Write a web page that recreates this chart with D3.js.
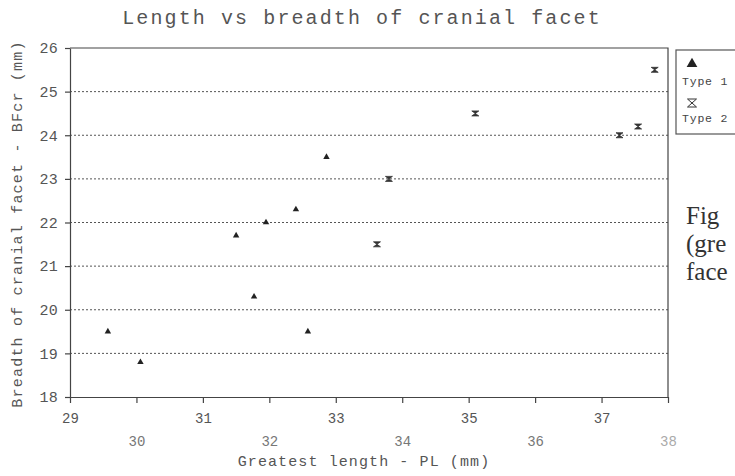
<!DOCTYPE html>
<html>
<head>
<meta charset="utf-8">
<script src="https://cdn.jsdelivr.net/npm/d3@7"></script>
<style>
  body { margin: 0; background: #fff; }
  svg { display: block; }
  .axis path, .axis line { stroke: #444; stroke-width: 1.2; }
  .axis text { font-family: "Liberation Mono", "DejaVu Sans Mono", monospace; fill: #555; }
</style>
</head>
<body>
<div class="scatter"><svg></svg></div>
<script>
'use strict';

// values
var type1Length = [29.57, 30.06, 31.5, 31.77, 31.95, 32.4, 32.58, 32.86],
    type1Breadth = [19.5, 18.8, 21.7, 20.3, 22.0, 22.3, 19.5, 23.5];

var type2Length = [33.62, 33.8, 35.1, 37.27, 37.55, 37.8],
    type2Breadth = [21.5, 23.0, 24.5, 24.0, 24.2, 25.5];

var xTicks = [29, 30, 31, 32, 33, 34, 35, 36, 37, 38],
    yTicks = [18, 19, 20, 21, 22, 23, 24, 25, 26],
    gridValues = [19, 20, 21, 22, 23, 24, 25];

var legendLabels = ['Type 1', 'Type 2'],
    captionLines = ['Fig', '(gre', 'face'];

var width = 735,
    height = 476,
    mono = '"Liberation Mono", "DejaVu Sans Mono", monospace';

var svg = d3.select('div.scatter').select('svg')
    .attr('width', width)
    .attr('height', height);

var x = d3.scaleLinear()
    .domain([29, 38])
    .range([70, 668]);

var y = d3.scaleLinear()
    .domain([18, 26])
    .range([397, 48]);

// hourglass marker: two triangles meeting in the middle
function hourglass(w, h) {
    return 'M' + (-w / 2) + ',' + (-h / 2) +
           'H' + (w / 2) +
           'L' + (-w / 2) + ',' + (h / 2) +
           'H' + (w / 2) + 'Z';
}

function zip(xs, ys) {
    return xs.map(function(d, i) { return { x: d, y: ys[i] }; });
}

// dotted grid
svg.append('g')
    .selectAll('line')
    .data(gridValues)
    .enter().append('line')
        .attr('x1', x.range()[0])
        .attr('x2', x.range()[1])
        .attr('y1', function(d) { return y(d); })
        .attr('y2', function(d) { return y(d); })
        .style('stroke', '#555')
        .style('stroke-width', 1)
        .style('stroke-dasharray', '2,2');

// frame top and right
svg.append('path')
    .attr('d', 'M' + x.range()[0] + ',' + y(26) + 'H' + x.range()[1] + 'V' + y(18))
    .style('fill', 'none')
    .style('stroke', '#444')
    .style('stroke-width', 1.2);

var yAxis = d3.axisLeft(y)
    .tickValues(yTicks)
    .tickSize(5)
    .tickPadding(7)
    .tickSizeOuter(0);

svg.append('g')
    .attr('class', 'axis axis--y')
    .attr('transform', 'translate(' + x.range()[0] + ',0)')
    .call(yAxis)
    .selectAll('text')
        .style('font-size', '15px')
        .style('letter-spacing', '0.3px');

var xAxis = d3.axisBottom(x)
    .tickValues(xTicks)
    .tickSize(6)
    .tickSizeOuter(0)
    .tickFormat(d3.format('d'));

svg.append('g')
    .attr('class', 'axis axis--x')
    .attr('transform', 'translate(0,' + y.range()[0] + ')')
    .call(xAxis)
    .selectAll('text')
        .attr('y', function(d) { return d % 2 ? 21 : 44; })
        .attr('dy', '0.35em')
        .style('font-size', '14px')
        .style('fill', function(d) { return d === 38 ? '#aaa' : (d % 2 ? '#555' : '#777'); });

// title and axis labels
svg.append('text')
    .attr('x', 362)
    .attr('y', 24)
    .attr('text-anchor', 'middle')
    .style('font-family', mono)
    .style('font-size', '20px')
    .style('letter-spacing', '2.1px')
    .style('fill', '#555')
    .text('Length vs breadth of cranial facet');

svg.append('text')
    .attr('x', 364)
    .attr('y', 466)
    .attr('text-anchor', 'middle')
    .style('font-family', mono)
    .style('font-size', '15px')
    .style('letter-spacing', '1.1px')
    .style('fill', '#555')
    .text('Greatest length - PL (mm)');

svg.append('text')
    .attr('transform', 'translate(22,224) rotate(-90)')
    .attr('text-anchor', 'middle')
    .style('font-family', mono)
    .style('font-size', '15px')
    .style('letter-spacing', '1.2px')
    .style('fill', '#555')
    .text('Breadth of cranial facet - BFcr (mm)');

// points
svg.append('g')
    .selectAll('path')
    .data(zip(type1Length, type1Breadth))
    .enter().append('path')
        .attr('transform', function(d) { return 'translate(' + x(d.x) + ',' + y(d.y) + ')'; })
        .attr('d', d3.symbol().type(d3.symbolTriangle).size(18))
        .style('fill', '#222');

svg.append('g')
    .selectAll('path')
    .data(zip(type2Length, type2Breadth))
    .enter().append('path')
        .attr('transform', function(d) { return 'translate(' + x(d.x) + ',' + y(d.y) + ')'; })
        .attr('d', hourglass(7, 5))
        .style('fill', '#333')
        .style('stroke', '#333')
        .style('stroke-width', 0.8);

// legend (runs off the right edge)
var legend = svg.append('g')
    .attr('transform', 'translate(676,50)');

legend.append('rect')
    .attr('width', 80)
    .attr('height', 84)
    .style('fill', 'none')
    .style('stroke', '#555')
    .style('stroke-width', 1.2);

legend.append('path')
    .attr('transform', 'translate(16,14)')
    .attr('d', d3.symbol().type(d3.symbolTriangle).size(50))
    .style('fill', '#222');

legend.append('path')
    .attr('transform', 'translate(16,53)')
    .attr('d', hourglass(9, 8))
    .style('fill', 'none')
    .style('stroke', '#333')
    .style('stroke-width', 1);

legend.selectAll('text')
    .data(legendLabels)
    .enter().append('text')
        .attr('x', 6)
        .attr('y', function(d, i) { return 35 + i * 37; })
        .style('font-family', mono)
        .style('font-size', '11.5px')
        .style('letter-spacing', '0.8px')
        .style('fill', '#444')
        .text(function(d) { return d; });

// caption fragment cut by the page edge
svg.append('g')
    .selectAll('text')
    .data(captionLines)
    .enter().append('text')
        .attr('x', 686)
        .attr('y', function(d, i) { return 224 + i * 28; })
        .style('font-family', '"Liberation Serif", serif')
        .style('font-size', '25px')
        .style('fill', '#333')
        .text(function(d) { return d; });
</script>
</body>
</html>
